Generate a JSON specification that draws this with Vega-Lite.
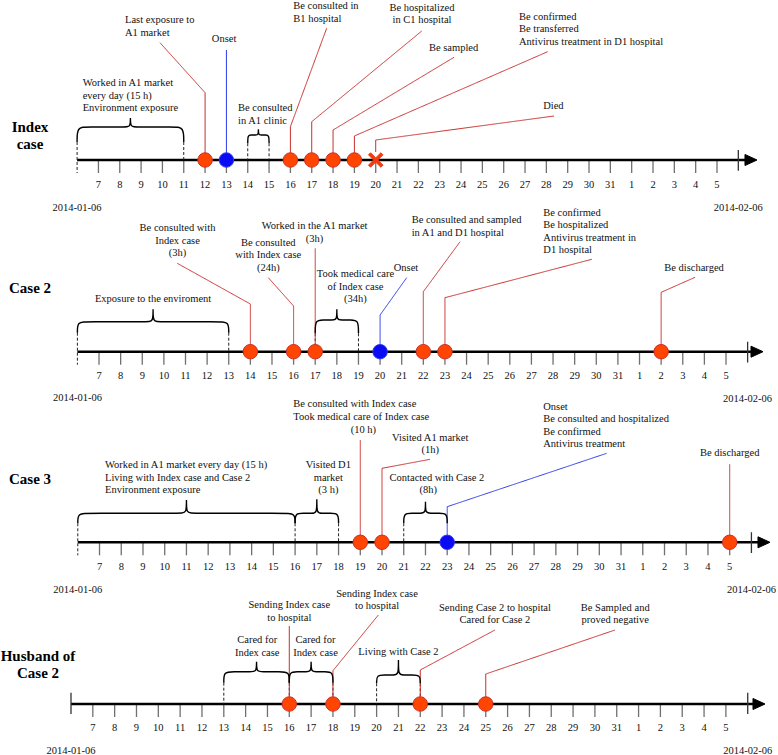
{
"$schema":"https://vega.github.io/schema/vega-lite/v6.json",
"width":778,"height":755,"padding":0,"autosize":{"type":"none"},
"background":"#ffffff",
"config":{"view":{"stroke":null},"font":"Liberation Serif, Times New Roman, serif","text":{"font":"Liberation Serif, Times New Roman, serif"}},
"datasets":{
"days":[{"x":7,"l":"7","y":0},{"x":8,"l":"8","y":0},{"x":9,"l":"9","y":0},{"x":10,"l":"10","y":0},{"x":11,"l":"11","y":0},{"x":12,"l":"12","y":0},{"x":13,"l":"13","y":0},{"x":14,"l":"14","y":0},{"x":15,"l":"15","y":0},{"x":16,"l":"16","y":0},{"x":17,"l":"17","y":0},{"x":18,"l":"18","y":0},{"x":19,"l":"19","y":0},{"x":20,"l":"20","y":0},{"x":21,"l":"21","y":0},{"x":22,"l":"22","y":0},{"x":23,"l":"23","y":0},{"x":24,"l":"24","y":0},{"x":25,"l":"25","y":0},{"x":26,"l":"26","y":0},{"x":27,"l":"27","y":0},{"x":28,"l":"28","y":0},{"x":29,"l":"29","y":0},{"x":30,"l":"30","y":0},{"x":31,"l":"31","y":0},{"x":32,"l":"1","y":0},{"x":33,"l":"2","y":0},{"x":34,"l":"3","y":0},{"x":35,"l":"4","y":0},{"x":36,"l":"5","y":0}],
"seg":[
{"r":1,"x":6,"y":0,"x2":37.6,"y2":0,"s":"axis"},
{"r":1,"x":37,"y":10,"x2":37,"y2":-10.7,"s":"tick"},
{"r":1,"x":6,"y":18,"x2":6,"y2":-13,"s":"dash"},
{"r":1,"x":11,"y":18,"x2":11,"y2":0,"s":"dash"},
{"r":1,"x":14,"y":16.7,"x2":14,"y2":0,"s":"dash"},
{"r":1,"x":15,"y":16.7,"x2":15,"y2":0,"s":"dash"},
{"r":1,"x":12,"y":0,"x2":12,"y2":67.3,"s":"red"},
{"r":1,"x":12,"y":67.3,"x2":9.886,"y2":117.3,"s":"red"},
{"r":1,"x":13,"y":0,"x2":13,"y2":110,"s":"blue"},
{"r":1,"x":16,"y":0,"x2":16,"y2":33.3,"s":"red"},
{"r":1,"x":16,"y":33.3,"x2":17.7,"y2":131.7,"s":"red"},
{"r":1,"x":17,"y":0,"x2":17,"y2":38.3,"s":"red"},
{"r":1,"x":17,"y":38.3,"x2":22.16,"y2":129,"s":"red"},
{"r":1,"x":18,"y":0,"x2":18,"y2":30,"s":"red"},
{"r":1,"x":18,"y":30,"x2":23.67,"y2":102.7,"s":"red"},
{"r":1,"x":19,"y":0,"x2":19,"y2":24,"s":"red"},
{"r":1,"x":19,"y":24,"x2":28.06,"y2":108.3,"s":"red"},
{"r":1,"x":20,"y":8,"x2":20,"y2":20,"s":"red"},
{"r":1,"x":20,"y":20,"x2":28.36,"y2":44,"s":"red"},
{"r":2,"x":6,"y":0,"x2":37.43,"y2":0,"s":"axis"},
{"r":2,"x":37,"y":10,"x2":37,"y2":-10.7,"s":"tick"},
{"r":2,"x":6,"y":19,"x2":6,"y2":-13,"s":"dash"},
{"r":2,"x":13,"y":19,"x2":13,"y2":0,"s":"dash"},
{"r":2,"x":17,"y":18.4,"x2":17,"y2":0,"s":"dash"},
{"r":2,"x":19,"y":18.4,"x2":19,"y2":0,"s":"dash"},
{"r":2,"x":14,"y":0,"x2":14,"y2":47.7,"s":"red"},
{"r":2,"x":14,"y":47.7,"x2":10.62,"y2":88.4,"s":"red"},
{"r":2,"x":16,"y":0,"x2":16,"y2":45.7,"s":"red"},
{"r":2,"x":16,"y":45.7,"x2":14.83,"y2":74,"s":"red"},
{"r":2,"x":17,"y":0,"x2":17,"y2":103.4,"s":"red"},
{"r":2,"x":20,"y":0,"x2":20,"y2":36.7,"s":"blue"},
{"r":2,"x":20,"y":36.7,"x2":21.23,"y2":74,"s":"blue"},
{"r":2,"x":22,"y":0,"x2":22,"y2":60,"s":"red"},
{"r":2,"x":22,"y":60,"x2":23.7,"y2":110,"s":"red"},
{"r":2,"x":23,"y":0,"x2":23,"y2":54,"s":"red"},
{"r":2,"x":23,"y":54,"x2":29.79,"y2":92.4,"s":"red"},
{"r":2,"x":33,"y":0,"x2":33,"y2":59.4,"s":"red"},
{"r":2,"x":33,"y":59.4,"x2":34.57,"y2":74.4,"s":"red"},
{"r":3,"x":6,"y":0,"x2":37.58,"y2":0,"s":"axis"},
{"r":3,"x":37,"y":10,"x2":37,"y2":-10.7,"s":"tick"},
{"r":3,"x":6,"y":19,"x2":6,"y2":-13,"s":"dash"},
{"r":3,"x":16,"y":19,"x2":16,"y2":0,"s":"dash"},
{"r":3,"x":18,"y":19,"x2":18,"y2":0,"s":"dash"},
{"r":3,"x":21,"y":19,"x2":21,"y2":0,"s":"dash"},
{"r":3,"x":19,"y":0,"x2":19,"y2":102.3,"s":"red"},
{"r":3,"x":20,"y":0,"x2":20,"y2":74,"s":"red"},
{"r":3,"x":20,"y":74,"x2":22.21,"y2":83,"s":"red"},
{"r":3,"x":23,"y":0,"x2":23,"y2":35.6,"s":"blue"},
{"r":3,"x":23,"y":35.6,"x2":30.34,"y2":89,"s":"blue"},
{"r":3,"x":36,"y":0,"x2":36,"y2":78,"s":"red"},
{"r":4,"x":6,"y":0,"x2":37.52,"y2":0,"s":"axis"},
{"r":4,"x":6,"y":11.3,"x2":6,"y2":-10,"s":"tick"},
{"r":4,"x":37,"y":11.3,"x2":37,"y2":-10,"s":"tick"},
{"r":4,"x":13,"y":21.3,"x2":13,"y2":0,"s":"dash"},
{"r":4,"x":16,"y":21.3,"x2":16,"y2":0,"s":"dash"},
{"r":4,"x":18,"y":21.3,"x2":18,"y2":0,"s":"dash"},
{"r":4,"x":20,"y":20.7,"x2":20,"y2":0,"s":"dash"},
{"r":4,"x":22,"y":20.7,"x2":22,"y2":0,"s":"dash"},
{"r":4,"x":16,"y":0,"x2":16,"y2":78,"s":"red"},
{"r":4,"x":18,"y":0,"x2":18,"y2":33.3,"s":"red"},
{"r":4,"x":18,"y":33.3,"x2":20.08,"y2":89,"s":"red"},
{"r":4,"x":22,"y":0,"x2":22,"y2":34,"s":"red"},
{"r":4,"x":22,"y":34,"x2":25.42,"y2":74,"s":"red"},
{"r":4,"x":25,"y":0,"x2":25,"y2":30,"s":"red"},
{"r":4,"x":25,"y":30,"x2":30.92,"y2":74,"s":"red"}
],
"ev":[
{"r":1,"x":12,"y":0,"s":"red"},{"r":1,"x":13,"y":0,"s":"blue"},{"r":1,"x":16,"y":0,"s":"red"},{"r":1,"x":17,"y":0,"s":"red"},{"r":1,"x":18,"y":0,"s":"red"},{"r":1,"x":19,"y":0,"s":"red"},{"r":1,"x":20,"y":0,"s":"x"},{"r":1,"x":37.594,"y":0,"s":"arrow"},
{"r":2,"x":14,"y":0,"s":"red"},{"r":2,"x":16,"y":0,"s":"red"},{"r":2,"x":17,"y":0,"s":"red"},{"r":2,"x":20,"y":0,"s":"blue"},{"r":2,"x":22,"y":0,"s":"red"},{"r":2,"x":23,"y":0,"s":"red"},{"r":2,"x":33,"y":0,"s":"red"},{"r":2,"x":37.434,"y":0,"s":"arrow"},
{"r":3,"x":19,"y":0,"s":"red"},{"r":3,"x":20,"y":0,"s":"red"},{"r":3,"x":23,"y":0,"s":"blue"},{"r":3,"x":36,"y":0,"s":"red"},{"r":3,"x":37.578,"y":0,"s":"arrow"},
{"r":4,"x":16,"y":0,"s":"red"},{"r":4,"x":18,"y":0,"s":"red"},{"r":4,"x":22,"y":0,"s":"red"},{"r":4,"x":25,"y":0,"s":"red"},{"r":4,"x":37.517,"y":0,"s":"arrow"}
],
"br":[
{"r":1,"b":1,"o":1,"x":6,"y":18},{"r":1,"b":1,"o":2,"x":6,"y":33},{"r":1,"b":1,"o":3,"x":6.45,"y":33},{"r":1,"b":1,"o":4,"x":8.25,"y":33},{"r":1,"b":1,"o":5,"x":8.5,"y":33},{"r":1,"b":1,"o":6,"x":8.5,"y":42},{"r":1,"b":1,"o":7,"x":8.5,"y":42},{"r":1,"b":1,"o":8,"x":8.5,"y":42},{"r":1,"b":1,"o":9,"x":8.5,"y":33},{"r":1,"b":1,"o":10,"x":8.75,"y":33},{"r":1,"b":1,"o":11,"x":10.55,"y":33},{"r":1,"b":1,"o":12,"x":11,"y":33},{"r":1,"b":1,"o":13,"x":11,"y":18},
{"r":1,"b":2,"o":1,"x":14,"y":16.7},{"r":1,"b":2,"o":2,"x":14,"y":25},{"r":1,"b":2,"o":3,"x":14.15,"y":25},{"r":1,"b":2,"o":4,"x":14.38,"y":25},{"r":1,"b":2,"o":5,"x":14.5,"y":25},{"r":1,"b":2,"o":6,"x":14.5,"y":30.7},{"r":1,"b":2,"o":7,"x":14.5,"y":30.7},{"r":1,"b":2,"o":8,"x":14.5,"y":30.7},{"r":1,"b":2,"o":9,"x":14.5,"y":25},{"r":1,"b":2,"o":10,"x":14.62,"y":25},{"r":1,"b":2,"o":11,"x":14.85,"y":25},{"r":1,"b":2,"o":12,"x":15,"y":25},{"r":1,"b":2,"o":13,"x":15,"y":16.7},
{"r":2,"b":3,"o":1,"x":6,"y":19},{"r":2,"b":3,"o":2,"x":6,"y":30},{"r":2,"b":3,"o":3,"x":6.45,"y":30},{"r":2,"b":3,"o":4,"x":9.25,"y":30},{"r":2,"b":3,"o":5,"x":9.5,"y":30},{"r":2,"b":3,"o":6,"x":9.5,"y":42.4},{"r":2,"b":3,"o":7,"x":9.5,"y":42.4},{"r":2,"b":3,"o":8,"x":9.5,"y":42.4},{"r":2,"b":3,"o":9,"x":9.5,"y":30},{"r":2,"b":3,"o":10,"x":9.75,"y":30},{"r":2,"b":3,"o":11,"x":12.55,"y":30},{"r":2,"b":3,"o":12,"x":13,"y":30},{"r":2,"b":3,"o":13,"x":13,"y":19},
{"r":2,"b":4,"o":1,"x":17,"y":18.4},{"r":2,"b":4,"o":2,"x":17,"y":31.7},{"r":2,"b":4,"o":3,"x":17.35,"y":31.7},{"r":2,"b":4,"o":4,"x":17.8,"y":31.7},{"r":2,"b":4,"o":5,"x":18,"y":31.7},{"r":2,"b":4,"o":6,"x":18,"y":42.4},{"r":2,"b":4,"o":7,"x":18,"y":42.4},{"r":2,"b":4,"o":8,"x":18,"y":42.4},{"r":2,"b":4,"o":9,"x":18,"y":31.7},{"r":2,"b":4,"o":10,"x":18.2,"y":31.7},{"r":2,"b":4,"o":11,"x":18.65,"y":31.7},{"r":2,"b":4,"o":12,"x":19,"y":31.7},{"r":2,"b":4,"o":13,"x":19,"y":18.4},
{"r":3,"b":5,"o":1,"x":6,"y":19},{"r":3,"b":5,"o":2,"x":6,"y":29},{"r":3,"b":5,"o":3,"x":6.45,"y":29},{"r":3,"b":5,"o":4,"x":10.75,"y":29},{"r":3,"b":5,"o":5,"x":11,"y":29},{"r":3,"b":5,"o":6,"x":11,"y":42.3},{"r":3,"b":5,"o":7,"x":11,"y":42.3},{"r":3,"b":5,"o":8,"x":11,"y":42.3},{"r":3,"b":5,"o":9,"x":11,"y":29},{"r":3,"b":5,"o":10,"x":11.25,"y":29},{"r":3,"b":5,"o":11,"x":15.55,"y":29},{"r":3,"b":5,"o":12,"x":16,"y":29},{"r":3,"b":5,"o":13,"x":16,"y":19},
{"r":3,"b":6,"o":1,"x":16,"y":19},{"r":3,"b":6,"o":2,"x":16,"y":29},{"r":3,"b":6,"o":3,"x":16.35,"y":29},{"r":3,"b":6,"o":4,"x":16.8,"y":29},{"r":3,"b":6,"o":5,"x":17,"y":29},{"r":3,"b":6,"o":6,"x":17,"y":43},{"r":3,"b":6,"o":7,"x":17,"y":43},{"r":3,"b":6,"o":8,"x":17,"y":43},{"r":3,"b":6,"o":9,"x":17,"y":29},{"r":3,"b":6,"o":10,"x":17.2,"y":29},{"r":3,"b":6,"o":11,"x":17.65,"y":29},{"r":3,"b":6,"o":12,"x":18,"y":29},{"r":3,"b":6,"o":13,"x":18,"y":19},
{"r":3,"b":7,"o":1,"x":21,"y":19},{"r":3,"b":7,"o":2,"x":21,"y":29},{"r":3,"b":7,"o":3,"x":21.35,"y":29},{"r":3,"b":7,"o":4,"x":21.8,"y":29},{"r":3,"b":7,"o":5,"x":22,"y":29},{"r":3,"b":7,"o":6,"x":22,"y":40.6},{"r":3,"b":7,"o":7,"x":22,"y":40.6},{"r":3,"b":7,"o":8,"x":22,"y":40.6},{"r":3,"b":7,"o":9,"x":22,"y":29},{"r":3,"b":7,"o":10,"x":22.2,"y":29},{"r":3,"b":7,"o":11,"x":22.65,"y":29},{"r":3,"b":7,"o":12,"x":23,"y":29},{"r":3,"b":7,"o":13,"x":23,"y":19},
{"r":4,"b":8,"o":1,"x":13,"y":21.3},{"r":4,"b":8,"o":2,"x":13,"y":32.3},{"r":4,"b":8,"o":3,"x":13.4,"y":32.3},{"r":4,"b":8,"o":4,"x":14.28,"y":32.3},{"r":4,"b":8,"o":5,"x":14.5,"y":32.3},{"r":4,"b":8,"o":6,"x":14.5,"y":42.3},{"r":4,"b":8,"o":7,"x":14.5,"y":42.3},{"r":4,"b":8,"o":8,"x":14.5,"y":42.3},{"r":4,"b":8,"o":9,"x":14.5,"y":32.3},{"r":4,"b":8,"o":10,"x":14.72,"y":32.3},{"r":4,"b":8,"o":11,"x":15.6,"y":32.3},{"r":4,"b":8,"o":12,"x":16,"y":32.3},{"r":4,"b":8,"o":13,"x":16,"y":21.3},
{"r":4,"b":9,"o":1,"x":16,"y":21.3},{"r":4,"b":9,"o":2,"x":16,"y":32.3},{"r":4,"b":9,"o":3,"x":16.35,"y":32.3},{"r":4,"b":9,"o":4,"x":16.8,"y":32.3},{"r":4,"b":9,"o":5,"x":17,"y":32.3},{"r":4,"b":9,"o":6,"x":17,"y":42.3},{"r":4,"b":9,"o":7,"x":17,"y":42.3},{"r":4,"b":9,"o":8,"x":17,"y":42.3},{"r":4,"b":9,"o":9,"x":17,"y":32.3},{"r":4,"b":9,"o":10,"x":17.2,"y":32.3},{"r":4,"b":9,"o":11,"x":17.65,"y":32.3},{"r":4,"b":9,"o":12,"x":18,"y":32.3},{"r":4,"b":9,"o":13,"x":18,"y":21.3},
{"r":4,"b":10,"o":1,"x":20,"y":20.7},{"r":4,"b":10,"o":2,"x":20,"y":29},{"r":4,"b":10,"o":3,"x":20.35,"y":29},{"r":4,"b":10,"o":4,"x":20.8,"y":29},{"r":4,"b":10,"o":5,"x":21,"y":29},{"r":4,"b":10,"o":6,"x":21,"y":44},{"r":4,"b":10,"o":7,"x":21,"y":44},{"r":4,"b":10,"o":8,"x":21,"y":44},{"r":4,"b":10,"o":9,"x":21,"y":29},{"r":4,"b":10,"o":10,"x":21.2,"y":29},{"r":4,"b":10,"o":11,"x":21.65,"y":29},{"r":4,"b":10,"o":12,"x":22,"y":29},{"r":4,"b":10,"o":13,"x":22,"y":20.7}
],
"tx":[
{"r":1,"a":"l","x":6.262,"y":74,"t":["Worked in A1 market"," every day (15 h)"," Environment exposure"]},
{"r":1,"a":"l","x":8.245,"y":137,"t":["Last exposure to","A1 market"]},
{"r":1,"a":"l","x":16.136,"y":151,"t":["Be consulted in","B1 hospital"]},
{"r":1,"a":"l","x":26.717,"y":140.5,"t":["Be confirmed","Be transferred","Antivirus treatment in D1  hospital"]},
{"r":1,"a":"l","x":13.543,"y":49,"t":["Be consulted","in A1 clinic"]},
{"r":1,"a":"c","x":12.89,"y":118.5,"t":["Onset"]},
{"r":1,"a":"c","x":22.17,"y":149.5,"t":["Be hospitalized","in C1 hospital"]},
{"r":1,"a":"c","x":23.65,"y":109.5,"t":["Be sampled"]},
{"r":1,"a":"c","x":28.33,"y":51,"t":["Died"]},
{"r":1,"a":"c","x":6,"y":-50.5,"t":["2014-01-06"]},
{"r":1,"a":"c","x":37,"y":-50.5,"t":["2014-02-06"]},
{"r":2,"a":"c","x":9.5,"y":49.7,"t":["Exposure to the enviroment"]},
{"r":2,"a":"c","x":10.63,"y":120.7,"t":["Be consulted with","Index case","(3h)"]},
{"r":2,"a":"c","x":14.83,"y":106.2,"t":["Be consulted","with Index case","(24h)"]},
{"r":2,"a":"c","x":16.97,"y":122.7,"t":["Worked in the A1 market","(3h)"]},
{"r":2,"a":"c","x":18.86,"y":74.7,"t":["Took medical care","of  Index case","(34h)"]},
{"r":2,"a":"c","x":21.2,"y":81.2,"t":["Onset"]},
{"r":2,"a":"c","x":34.52,"y":81.2,"t":["Be discharged"]},
{"r":2,"a":"l","x":21.46,"y":128.7,"t":["Be consulted and sampled"," in A1 and D1 hospital"]},
{"r":2,"a":"l","x":27.55,"y":136.2,"t":["Be confirmed","Be hospitalized","Antivirus treatment in"," D1 hospital"]},
{"r":2,"a":"c","x":6,"y":-49.5,"t":["2014-01-06"]},
{"r":2,"a":"c","x":37,"y":-50.3,"t":["2014-02-06"]},
{"r":3,"a":"l","x":7.252,"y":74.3,"t":["Worked in A1 market every day (15 h)","Living with Index case and Case 2","Environment exposure"]},
{"r":3,"a":"l","x":15.917,"y":135.3,"t":["Be consulted with Index case","Took medical care of Index case"]},
{"r":3,"a":"c","x":19.14,"y":109.3,"t":["(10 h)"]},
{"r":3,"a":"c","x":17.53,"y":74.3,"t":["Visited  D1","market","(3 h)"]},
{"r":3,"a":"c","x":22.22,"y":101.8,"t":["Visited A1 market","(1h)"]},
{"r":3,"a":"c","x":22.53,"y":61.3,"t":["Contacted with  Case 2"]},
{"r":3,"a":"c","x":22.13,"y":49.3,"t":["(8h)"]},
{"r":3,"a":"l","x":27.42,"y":132.8,"t":["Onset","Be consulted and hospitalized","Be confirmed","Antivirus treatment"]},
{"r":3,"a":"c","x":36.0,"y":86.8,"t":["Be discharged"]},
{"r":3,"a":"c","x":6,"y":-50.7,"t":["2014-01-06"]},
{"r":3,"a":"c","x":37,"y":-50.7,"t":["2014-02-06"]},
{"r":4,"a":"c","x":14.53,"y":61,"t":["Cared for","Index case"]},
{"r":4,"a":"c","x":17.2,"y":61,"t":["Cared for","Index case"]},
{"r":4,"a":"c","x":16,"y":96,"t":["Sending Index case","to hospital"]},
{"r":4,"a":"c","x":20.02,"y":107.5,"t":["Sending Index case","to hospital"]},
{"r":4,"a":"c","x":21,"y":49.5,"t":["Living with Case 2"]},
{"r":4,"a":"c","x":25.42,"y":93.5,"t":["Sending Case 2 to hospital","Cared for Case 2"]},
{"r":4,"a":"c","x":30.93,"y":93.5,"t":["Be Sampled and","proved negative"]},
{"r":4,"a":"c","x":6,"y":-50,"t":["2014-01-06"]},
{"r":4,"a":"c","x":37,"y":-50,"t":["2014-02-06"]}
],
"rl":[
{"r":1,"x":3.792,"y":28.5,"t":["Index","case"]},
{"r":2,"x":3.808,"y":59.2,"t":["Case 2"]},
{"r":3,"x":3.801,"y":58.8,"t":["Case 3"]},
{"r":4,"x":4.489,"y":43.5,"t":["Husband of","Case 2"]}
]
},
"layer":[
{"encoding":{"x":{"field":"x","type":"quantitative","scale":{"domain":[2.3854,38.86],"nice":false,"zero":false},"axis":null},"y":{"field":"y","type":"quantitative","scale":{"domain":[-595,160],"nice":false,"zero":false},"axis":null}},
"layer":[
{"data":{"name":"days"},"mark":{"type":"tick","orient":"vertical","size":13,"thickness":1.3,"yOffset":6.5,"color":"#333333"}},
{"data":{"name":"days"},"mark":{"type":"text","font":"Liberation Serif, Times New Roman, serif","fontSize":10.5,"baseline":"alphabetic","align":"center","fill":"#111111","dy":28},"encoding":{"text":{"field":"l"}}},
{"data":{"name":"seg"},"transform":[{"filter":"datum.r==1"}],"mark":{"type":"rule"},"encoding":{"x2":{"field":"x2"},"y2":{"field":"y2"},"stroke":{"field":"s","type":"nominal","scale":{"domain":["axis","tick","dash","red","blue","arrow","x"],"range":["#000000","#333333","#222222","#C8302C","#2B3BEB","#000000","#F03A10"]},"legend":null},"strokeWidth":{"field":"s","type":"ordinal","scale":{"type":"ordinal","domain":["axis","tick","dash","red","blue"],"range":[2.6,1.3,1,1,1]},"legend":null},"strokeDash":{"field":"s","type":"nominal","scale":{"domain":["axis","tick","dash","red","blue"],"range":[[1,0],[1,0],[3,2],[1,0],[1,0]]},"legend":null}}},
{"data":{"name":"br"},"transform":[{"filter":"datum.r==1"}],"mark":{"type":"line","interpolate":"basis","stroke":"#000000","strokeWidth":1.4},"encoding":{"detail":{"field":"b","type":"nominal"},"order":{"field":"o","type":"quantitative"}}},
{"data":{"name":"ev"},"transform":[{"filter":"datum.r==1"}],"mark":{"type":"point","filled":true,"size":210,"strokeWidth":1,"opacity":1},"encoding":{"shape":{"field":"s","type":"nominal","scale":{"domain":["red","blue","arrow","x"],"range":["circle","circle","M-0.83,-0.76L0.83,0L-0.83,0.76Z","M-0.71,-1L0,-0.29L0.71,-1L1,-0.71L0.29,0L1,0.71L0.71,1L0,0.29L-0.71,1L-1,0.71L-0.29,0L-1,-0.71Z"]},"legend":null},"fill":{"field":"s","type":"nominal","scale":{"domain":["red","blue","arrow","x"],"range":["#FF4500","#0A0AF5","#000000","#F03A10"]},"legend":null},"stroke":{"field":"s","type":"nominal","scale":{"domain":["axis","tick","dash","red","blue","arrow","x"],"range":["#000000","#333333","#222222","#C8302C","#2B3BEB","#000000","#F03A10"]},"legend":null}}},
{"data":{"name":"tx"},"transform":[{"filter":"datum.r==1 && datum.a=='l'"}],"mark":{"type":"text","font":"Liberation Serif, Times New Roman, serif","fontSize":10.5,"lineHeight":12.6,"baseline":"alphabetic","align":"left","fill":"#111111"},"encoding":{"text":{"field":"t"}}},
{"data":{"name":"tx"},"transform":[{"filter":"datum.r==1 && datum.a=='c'"}],"mark":{"type":"text","font":"Liberation Serif, Times New Roman, serif","fontSize":10.5,"lineHeight":12.6,"baseline":"alphabetic","align":"center","fill":"#111111"},"encoding":{"text":{"field":"t"}}},
{"data":{"name":"rl"},"transform":[{"filter":"datum.r==1"}],"mark":{"type":"text","font":"Liberation Serif, Times New Roman, serif","fontSize":15,"fontWeight":"bold","lineHeight":17,"baseline":"alphabetic","align":"center","fill":"#000000"},"encoding":{"text":{"field":"t"}}}
]},
{"encoding":{"x":{"field":"x","type":"quantitative","scale":{"domain":[2.42,38.405],"nice":false,"zero":false},"axis":null},"y":{"field":"y","type":"quantitative","scale":{"domain":[-403.3,351.7],"nice":false,"zero":false},"axis":null}},
"layer":[
{"data":{"name":"days"},"mark":{"type":"tick","orient":"vertical","size":13,"thickness":1.3,"yOffset":6.5,"color":"#333333"}},
{"data":{"name":"days"},"mark":{"type":"text","font":"Liberation Serif, Times New Roman, serif","fontSize":10.5,"baseline":"alphabetic","align":"center","fill":"#111111","dy":27.3},"encoding":{"text":{"field":"l"}}},
{"data":{"name":"seg"},"transform":[{"filter":"datum.r==2"}],"mark":{"type":"rule"},"encoding":{"x2":{"field":"x2"},"y2":{"field":"y2"},"stroke":{"field":"s","type":"nominal","scale":{"domain":["axis","tick","dash","red","blue","arrow","x"],"range":["#000000","#333333","#222222","#C8302C","#2B3BEB","#000000","#F03A10"]},"legend":null},"strokeWidth":{"field":"s","type":"ordinal","scale":{"type":"ordinal","domain":["axis","tick","dash","red","blue"],"range":[2.6,1.3,1,1,1]},"legend":null},"strokeDash":{"field":"s","type":"nominal","scale":{"domain":["axis","tick","dash","red","blue"],"range":[[1,0],[1,0],[3,2],[1,0],[1,0]]},"legend":null}}},
{"data":{"name":"br"},"transform":[{"filter":"datum.r==2"}],"mark":{"type":"line","interpolate":"basis","stroke":"#000000","strokeWidth":1.4},"encoding":{"detail":{"field":"b","type":"nominal"},"order":{"field":"o","type":"quantitative"}}},
{"data":{"name":"ev"},"transform":[{"filter":"datum.r==2"}],"mark":{"type":"point","filled":true,"size":210,"strokeWidth":1,"opacity":1},"encoding":{"shape":{"field":"s","type":"nominal","scale":{"domain":["red","blue","arrow","x"],"range":["circle","circle","M-0.83,-0.76L0.83,0L-0.83,0.76Z","M-0.71,-1L0,-0.29L0.71,-1L1,-0.71L0.29,0L1,0.71L0.71,1L0,0.29L-0.71,1L-1,0.71L-0.29,0L-1,-0.71Z"]},"legend":null},"fill":{"field":"s","type":"nominal","scale":{"domain":["red","blue","arrow","x"],"range":["#FF4500","#0A0AF5","#000000","#F03A10"]},"legend":null},"stroke":{"field":"s","type":"nominal","scale":{"domain":["axis","tick","dash","red","blue","arrow","x"],"range":["#000000","#333333","#222222","#C8302C","#2B3BEB","#000000","#F03A10"]},"legend":null}}},
{"data":{"name":"tx"},"transform":[{"filter":"datum.r==2 && datum.a=='l'"}],"mark":{"type":"text","font":"Liberation Serif, Times New Roman, serif","fontSize":10.5,"lineHeight":12.6,"baseline":"alphabetic","align":"left","fill":"#111111"},"encoding":{"text":{"field":"t"}}},
{"data":{"name":"tx"},"transform":[{"filter":"datum.r==2 && datum.a=='c'"}],"mark":{"type":"text","font":"Liberation Serif, Times New Roman, serif","fontSize":10.5,"lineHeight":12.6,"baseline":"alphabetic","align":"center","fill":"#111111"},"encoding":{"text":{"field":"t"}}},
{"data":{"name":"rl"},"transform":[{"filter":"datum.r==2"}],"mark":{"type":"text","font":"Liberation Serif, Times New Roman, serif","fontSize":15,"fontWeight":"bold","lineHeight":17,"baseline":"alphabetic","align":"center","fill":"#000000"},"encoding":{"text":{"field":"t"}}}
]},
{"encoding":{"x":{"field":"x","type":"quantitative","scale":{"domain":[2.42,38.223],"nice":false,"zero":false},"axis":null},"y":{"field":"y","type":"quantitative","scale":{"domain":[-212.7,542.3],"nice":false,"zero":false},"axis":null}},
"layer":[
{"data":{"name":"days"},"mark":{"type":"tick","orient":"vertical","size":13,"thickness":1.3,"yOffset":6.5,"color":"#333333"}},
{"data":{"name":"days"},"mark":{"type":"text","font":"Liberation Serif, Times New Roman, serif","fontSize":10.5,"baseline":"alphabetic","align":"center","fill":"#111111","dy":27.7},"encoding":{"text":{"field":"l"}}},
{"data":{"name":"seg"},"transform":[{"filter":"datum.r==3"}],"mark":{"type":"rule"},"encoding":{"x2":{"field":"x2"},"y2":{"field":"y2"},"stroke":{"field":"s","type":"nominal","scale":{"domain":["axis","tick","dash","red","blue","arrow","x"],"range":["#000000","#333333","#222222","#C8302C","#2B3BEB","#000000","#F03A10"]},"legend":null},"strokeWidth":{"field":"s","type":"ordinal","scale":{"type":"ordinal","domain":["axis","tick","dash","red","blue"],"range":[2.6,1.3,1,1,1]},"legend":null},"strokeDash":{"field":"s","type":"nominal","scale":{"domain":["axis","tick","dash","red","blue"],"range":[[1,0],[1,0],[3,2],[1,0],[1,0]]},"legend":null}}},
{"data":{"name":"br"},"transform":[{"filter":"datum.r==3"}],"mark":{"type":"line","interpolate":"basis","stroke":"#000000","strokeWidth":1.4},"encoding":{"detail":{"field":"b","type":"nominal"},"order":{"field":"o","type":"quantitative"}}},
{"data":{"name":"ev"},"transform":[{"filter":"datum.r==3"}],"mark":{"type":"point","filled":true,"size":210,"strokeWidth":1,"opacity":1},"encoding":{"shape":{"field":"s","type":"nominal","scale":{"domain":["red","blue","arrow","x"],"range":["circle","circle","M-0.83,-0.76L0.83,0L-0.83,0.76Z","M-0.71,-1L0,-0.29L0.71,-1L1,-0.71L0.29,0L1,0.71L0.71,1L0,0.29L-0.71,1L-1,0.71L-0.29,0L-1,-0.71Z"]},"legend":null},"fill":{"field":"s","type":"nominal","scale":{"domain":["red","blue","arrow","x"],"range":["#FF4500","#0A0AF5","#000000","#F03A10"]},"legend":null},"stroke":{"field":"s","type":"nominal","scale":{"domain":["axis","tick","dash","red","blue","arrow","x"],"range":["#000000","#333333","#222222","#C8302C","#2B3BEB","#000000","#F03A10"]},"legend":null}}},
{"data":{"name":"tx"},"transform":[{"filter":"datum.r==3 && datum.a=='l'"}],"mark":{"type":"text","font":"Liberation Serif, Times New Roman, serif","fontSize":10.5,"lineHeight":12.6,"baseline":"alphabetic","align":"left","fill":"#111111"},"encoding":{"text":{"field":"t"}}},
{"data":{"name":"tx"},"transform":[{"filter":"datum.r==3 && datum.a=='c'"}],"mark":{"type":"text","font":"Liberation Serif, Times New Roman, serif","fontSize":10.5,"lineHeight":12.6,"baseline":"alphabetic","align":"center","fill":"#111111"},"encoding":{"text":{"field":"t"}}},
{"data":{"name":"rl"},"transform":[{"filter":"datum.r==3"}],"mark":{"type":"text","font":"Liberation Serif, Times New Roman, serif","fontSize":15,"fontWeight":"bold","lineHeight":17,"baseline":"alphabetic","align":"center","fill":"#000000"},"encoding":{"text":{"field":"t"}}}
]},
{"encoding":{"x":{"field":"x","type":"quantitative","scale":{"domain":[2.748,38.387],"nice":false,"zero":false},"axis":null},"y":{"field":"y","type":"quantitative","scale":{"domain":[-51,704],"nice":false,"zero":false},"axis":null}},
"layer":[
{"data":{"name":"days"},"mark":{"type":"tick","orient":"vertical","size":13,"thickness":1.3,"yOffset":6.5,"color":"#333333"}},
{"data":{"name":"days"},"mark":{"type":"text","font":"Liberation Serif, Times New Roman, serif","fontSize":10.5,"baseline":"alphabetic","align":"center","fill":"#111111","dy":27},"encoding":{"text":{"field":"l"}}},
{"data":{"name":"seg"},"transform":[{"filter":"datum.r==4"}],"mark":{"type":"rule"},"encoding":{"x2":{"field":"x2"},"y2":{"field":"y2"},"stroke":{"field":"s","type":"nominal","scale":{"domain":["axis","tick","dash","red","blue","arrow","x"],"range":["#000000","#333333","#222222","#C8302C","#2B3BEB","#000000","#F03A10"]},"legend":null},"strokeWidth":{"field":"s","type":"ordinal","scale":{"type":"ordinal","domain":["axis","tick","dash","red","blue"],"range":[2.6,1.3,1,1,1]},"legend":null},"strokeDash":{"field":"s","type":"nominal","scale":{"domain":["axis","tick","dash","red","blue"],"range":[[1,0],[1,0],[3,2],[1,0],[1,0]]},"legend":null}}},
{"data":{"name":"br"},"transform":[{"filter":"datum.r==4"}],"mark":{"type":"line","interpolate":"basis","stroke":"#000000","strokeWidth":1.4},"encoding":{"detail":{"field":"b","type":"nominal"},"order":{"field":"o","type":"quantitative"}}},
{"data":{"name":"ev"},"transform":[{"filter":"datum.r==4"}],"mark":{"type":"point","filled":true,"size":210,"strokeWidth":1,"opacity":1},"encoding":{"shape":{"field":"s","type":"nominal","scale":{"domain":["red","blue","arrow","x"],"range":["circle","circle","M-0.83,-0.76L0.83,0L-0.83,0.76Z","M-0.71,-1L0,-0.29L0.71,-1L1,-0.71L0.29,0L1,0.71L0.71,1L0,0.29L-0.71,1L-1,0.71L-0.29,0L-1,-0.71Z"]},"legend":null},"fill":{"field":"s","type":"nominal","scale":{"domain":["red","blue","arrow","x"],"range":["#FF4500","#0A0AF5","#000000","#F03A10"]},"legend":null},"stroke":{"field":"s","type":"nominal","scale":{"domain":["axis","tick","dash","red","blue","arrow","x"],"range":["#000000","#333333","#222222","#C8302C","#2B3BEB","#000000","#F03A10"]},"legend":null}}},
{"data":{"name":"tx"},"transform":[{"filter":"datum.r==4 && datum.a=='l'"}],"mark":{"type":"text","font":"Liberation Serif, Times New Roman, serif","fontSize":10.5,"lineHeight":12.6,"baseline":"alphabetic","align":"left","fill":"#111111"},"encoding":{"text":{"field":"t"}}},
{"data":{"name":"tx"},"transform":[{"filter":"datum.r==4 && datum.a=='c'"}],"mark":{"type":"text","font":"Liberation Serif, Times New Roman, serif","fontSize":10.5,"lineHeight":12.6,"baseline":"alphabetic","align":"center","fill":"#111111"},"encoding":{"text":{"field":"t"}}},
{"data":{"name":"rl"},"transform":[{"filter":"datum.r==4"}],"mark":{"type":"text","font":"Liberation Serif, Times New Roman, serif","fontSize":15,"fontWeight":"bold","lineHeight":17,"baseline":"alphabetic","align":"center","fill":"#000000"},"encoding":{"text":{"field":"t"}}}
]}
],
"resolve":{"scale":{"x":"independent","y":"independent"}}
}
